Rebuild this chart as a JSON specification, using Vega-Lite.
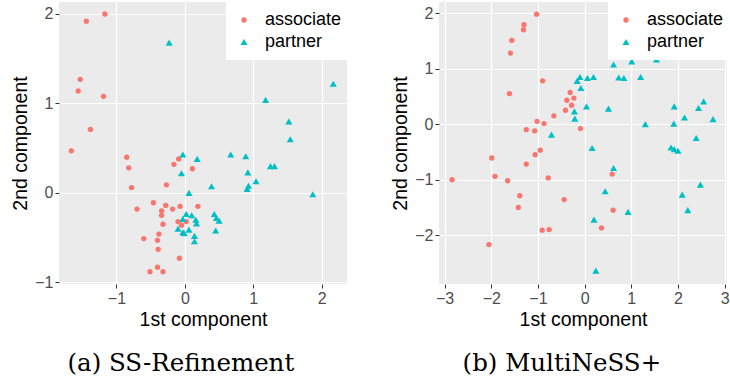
{
  "$schema": "https://vega.github.io/schema/vega-lite/v6.json",
  "padding": {"left": 10, "top": 2, "right": 0, "bottom": 0},
  "spacing": 39,
  "config": {
    "view": {"fill": "#EBEBEB", "stroke": null},
    "font": "Liberation Sans",
    "axis": {"grid": true, "gridColor": "#FFFFFF", "gridWidth": 1.2, "domain": false, "tickColor": "#333333", "tickSize": 4, "tickWidth": 1, "labelColor": "#4D4D4D", "labelFontSize": 16, "labelFont": "Liberation Sans", "labelPadding": 2, "titleFont": "Liberation Sans", "titleFontSize": 19.5, "titleFontWeight": "normal", "titleColor": "#000000", "titlePadding": 4},
    "legend": {"labelFontSize": 18, "labelFont": "Liberation Sans", "labelColor": "#000000", "symbolSize": 30, "padding": 9, "fillColor": "#FFFFFF", "rowPadding": 4, "symbolOffset": 0, "labelOffset": 12, "symbolStrokeWidth": 0},
    "title": {"font": "DejaVu Serif", "fontSize": 24.5, "fontWeight": "normal", "color": "#000000"}
  },
  "datasets": {
    "a": [
      {"x": -1.44, "y": 1.92, "g": "associate"}, {"x": -1.17, "y": 2.0, "g": "associate"}, {"x": -1.53, "y": 1.27, "g": "associate"}, {"x": -1.56, "y": 1.14, "g": "associate"}, {"x": -1.19, "y": 1.08, "g": "associate"}, {"x": -1.38, "y": 0.71, "g": "associate"}, {"x": -1.66, "y": 0.47, "g": "associate"}, {"x": -0.85, "y": 0.40, "g": "associate"}, {"x": -0.09, "y": 0.38, "g": "associate"}, {"x": -0.82, "y": 0.28, "g": "associate"}, {"x": -0.16, "y": 0.32, "g": "associate"}, {"x": 0.11, "y": 0.27, "g": "associate"}, {"x": -0.78, "y": 0.06, "g": "associate"}, {"x": -0.27, "y": 0.09, "g": "associate"}, {"x": -0.46, "y": -0.11, "g": "associate"}, {"x": -0.70, "y": -0.18, "g": "associate"}, {"x": -0.28, "y": -0.14, "g": "associate"}, {"x": -0.07, "y": -0.15, "g": "associate"}, {"x": -0.34, "y": -0.20, "g": "associate"}, {"x": -0.18, "y": -0.18, "g": "associate"}, {"x": 0.19, "y": -0.15, "g": "associate"}, {"x": -0.34, "y": -0.25, "g": "associate"}, {"x": -0.10, "y": -0.32, "g": "associate"}, {"x": 0.02, "y": -0.32, "g": "associate"}, {"x": -0.05, "y": -0.36, "g": "associate"}, {"x": -0.32, "y": -0.35, "g": "associate"}, {"x": -0.38, "y": -0.46, "g": "associate"}, {"x": -0.60, "y": -0.51, "g": "associate"}, {"x": -0.40, "y": -0.53, "g": "associate"}, {"x": -0.39, "y": -0.63, "g": "associate"}, {"x": -0.08, "y": -0.73, "g": "associate"}, {"x": -0.40, "y": -0.83, "g": "associate"}, {"x": -0.51, "y": -0.88, "g": "associate"}, {"x": -0.32, "y": -0.88, "g": "associate"},
      {"x": -0.23, "y": 1.68, "g": "partner"}, {"x": 2.17, "y": 1.22, "g": "partner"}, {"x": 1.18, "y": 1.04, "g": "partner"}, {"x": 1.52, "y": 0.80, "g": "partner"}, {"x": 1.54, "y": 0.60, "g": "partner"}, {"x": -0.03, "y": 0.43, "g": "partner"}, {"x": 0.18, "y": 0.38, "g": "partner"}, {"x": 0.67, "y": 0.43, "g": "partner"}, {"x": 0.89, "y": 0.41, "g": "partner"}, {"x": -0.05, "y": 0.22, "g": "partner"}, {"x": 0.92, "y": 0.23, "g": "partner"}, {"x": 1.25, "y": 0.30, "g": "partner"}, {"x": 1.31, "y": 0.30, "g": "partner"}, {"x": 1.04, "y": 0.13, "g": "partner"}, {"x": 0.39, "y": 0.075, "g": "partner"}, {"x": 0.93, "y": 0.08, "g": "partner"}, {"x": 0.91, "y": 0.045, "g": "partner"}, {"x": 0.06, "y": 0.0, "g": "partner"}, {"x": 1.87, "y": -0.015, "g": "partner"}, {"x": 0.02, "y": -0.235, "g": "partner"}, {"x": 0.10, "y": -0.25, "g": "partner"}, {"x": 0.43, "y": -0.235, "g": "partner"}, {"x": 0.46, "y": -0.28, "g": "partner"}, {"x": 0.50, "y": -0.31, "g": "partner"}, {"x": 0.16, "y": -0.30, "g": "partner"}, {"x": 0.17, "y": -0.34, "g": "partner"}, {"x": -0.03, "y": -0.29, "g": "partner"}, {"x": -0.10, "y": -0.40, "g": "partner"}, {"x": 0.06, "y": -0.41, "g": "partner"}, {"x": -0.03, "y": -0.44, "g": "partner"}, {"x": -0.01, "y": -0.45, "g": "partner"}, {"x": 0.45, "y": -0.42, "g": "partner"}, {"x": 0.14, "y": -0.48, "g": "partner"}, {"x": 0.14, "y": -0.54, "g": "partner"}
    ],
    "b": [
      {"x": -1.03, "y": 1.98, "g": "associate"}, {"x": -1.30, "y": 1.79, "g": "associate"}, {"x": -1.31, "y": 1.70, "g": "associate"}, {"x": -1.56, "y": 1.51, "g": "associate"}, {"x": -1.59, "y": 1.28, "g": "associate"}, {"x": -0.90, "y": 0.78, "g": "associate"}, {"x": -1.61, "y": 0.55, "g": "associate"}, {"x": -0.31, "y": 0.57, "g": "associate"}, {"x": -0.38, "y": 0.43, "g": "associate"}, {"x": -0.23, "y": 0.47, "g": "associate"}, {"x": -0.28, "y": 0.34, "g": "associate"}, {"x": -0.41, "y": 0.25, "g": "associate"}, {"x": -0.66, "y": 0.15, "g": "associate"}, {"x": -1.02, "y": 0.05, "g": "associate"}, {"x": -0.87, "y": 0.01, "g": "associate"}, {"x": -1.25, "y": -0.10, "g": "associate"}, {"x": -1.07, "y": -0.12, "g": "associate"}, {"x": -0.09, "y": -0.08, "g": "associate"}, {"x": -0.95, "y": -0.47, "g": "associate"}, {"x": -1.06, "y": -0.55, "g": "associate"}, {"x": -1.99, "y": -0.61, "g": "associate"}, {"x": -1.25, "y": -0.72, "g": "associate"}, {"x": -2.84, "y": -1.0, "g": "associate"}, {"x": -1.92, "y": -0.94, "g": "associate"}, {"x": -1.65, "y": -1.02, "g": "associate"}, {"x": -0.78, "y": -0.97, "g": "associate"}, {"x": 0.59, "y": -0.90, "g": "associate"}, {"x": -1.39, "y": -1.29, "g": "associate"}, {"x": -1.42, "y": -1.50, "g": "associate"}, {"x": -0.44, "y": -1.36, "g": "associate"}, {"x": 0.61, "y": -1.55, "g": "associate"}, {"x": -0.91, "y": -1.91, "g": "associate"}, {"x": -0.76, "y": -1.90, "g": "associate"}, {"x": 0.36, "y": -1.87, "g": "associate"}, {"x": -2.05, "y": -2.17, "g": "associate"},
      {"x": 0.62, "y": 1.075, "g": "partner"}, {"x": 1.01, "y": 1.13, "g": "partner"}, {"x": 1.54, "y": 1.165, "g": "partner"}, {"x": -0.10, "y": 0.85, "g": "partner"}, {"x": -0.16, "y": 0.78, "g": "partner"}, {"x": 0.06, "y": 0.83, "g": "partner"}, {"x": 0.19, "y": 0.85, "g": "partner"}, {"x": 0.73, "y": 0.84, "g": "partner"}, {"x": 0.84, "y": 0.83, "g": "partner"}, {"x": 1.20, "y": 0.85, "g": "partner"}, {"x": -0.08, "y": 0.65, "g": "partner"}, {"x": 0.04, "y": 0.32, "g": "partner"}, {"x": 0.51, "y": 0.28, "g": "partner"}, {"x": -0.22, "y": 0.23, "g": "partner"}, {"x": -0.21, "y": 0.10, "g": "partner"}, {"x": -0.71, "y": -0.19, "g": "partner"}, {"x": 0.16, "y": -0.43, "g": "partner"}, {"x": 1.30, "y": 0.0, "g": "partner"}, {"x": 1.92, "y": 0.32, "g": "partner"}, {"x": 1.91, "y": 0.01, "g": "partner"}, {"x": 2.14, "y": 0.12, "g": "partner"}, {"x": 2.44, "y": 0.29, "g": "partner"}, {"x": 2.55, "y": 0.41, "g": "partner"}, {"x": 2.75, "y": 0.09, "g": "partner"}, {"x": 2.39, "y": -0.25, "g": "partner"}, {"x": 1.85, "y": -0.42, "g": "partner"}, {"x": 1.92, "y": -0.45, "g": "partner"}, {"x": 2.00, "y": -0.48, "g": "partner"}, {"x": 0.62, "y": -0.79, "g": "partner"}, {"x": 0.44, "y": -1.21, "g": "partner"}, {"x": 2.48, "y": -1.09, "g": "partner"}, {"x": 2.09, "y": -1.27, "g": "partner"}, {"x": 2.21, "y": -1.55, "g": "partner"}, {"x": 0.93, "y": -1.58, "g": "partner"}, {"x": 0.20, "y": -1.72, "g": "partner"}, {"x": 0.24, "y": -2.64, "g": "partner"}
    ]
  },
  "resolve": {"scale": {"color": "independent", "shape": "independent", "size": "independent"}, "legend": {"color": "independent", "shape": "independent"}},
  "hconcat": [
    {
      "width": 288, "height": 282,
      "data": {"name": "a"},
      "title": {"text": "(a) SS-Refinement", "orient": "bottom", "anchor": "middle", "frame": "bounds", "offset": 23},
      "mark": {"type": "point", "filled": true, "opacity": 1},
      "encoding": {
        "x": {"field": "x", "type": "quantitative", "scale": {"domain": [-1.84, 2.37], "nice": false, "zero": false}, "axis": {"values": [-1, 0, 1, 2], "title": "1st component"}},
        "y": {"field": "y", "type": "quantitative", "scale": {"domain": [-1.018, 2.134], "nice": false, "zero": false}, "axis": {"values": [-1, 0, 1, 2], "title": "2nd component"}},
        "color": {"field": "g", "type": "nominal", "scale": {"domain": ["associate", "partner"], "range": ["#F8766D", "#00BFC4"]}, "legend": {"title": null, "orient": "none", "legendX": 167, "legendY": 0}},
        "shape": {"field": "g", "type": "nominal", "scale": {"domain": ["associate", "partner"], "range": ["circle", "triangle-up"]}, "legend": {"title": null, "orient": "none", "legendX": 167, "legendY": 0}},
        "size": {"field": "g", "type": "nominal", "scale": {"domain": ["associate", "partner"], "range": [28, 50]}, "legend": null}
      }
    },
    {
      "width": 288, "height": 282,
      "data": {"name": "b"},
      "title": {"text": "(b) MultiNeSS+", "orient": "bottom", "anchor": "middle", "frame": "bounds", "offset": 23},
      "mark": {"type": "point", "filled": true, "opacity": 1},
      "encoding": {
        "x": {"field": "x", "type": "quantitative", "scale": {"domain": [-3.12, 3.05], "nice": false, "zero": false}, "axis": {"values": [-3, -2, -1, 0, 1, 2, 3], "title": "1st component"}},
        "y": {"field": "y", "type": "quantitative", "scale": {"domain": [-2.88, 2.2], "nice": false, "zero": false}, "axis": {"values": [-2, -1, 0, 1, 2], "title": "2nd component"}},
        "color": {"field": "g", "type": "nominal", "scale": {"domain": ["associate", "partner"], "range": ["#F8766D", "#00BFC4"]}, "legend": {"title": null, "orient": "none", "legendX": 169, "legendY": 0}},
        "shape": {"field": "g", "type": "nominal", "scale": {"domain": ["associate", "partner"], "range": ["circle", "triangle-up"]}, "legend": {"title": null, "orient": "none", "legendX": 169, "legendY": 0}},
        "size": {"field": "g", "type": "nominal", "scale": {"domain": ["associate", "partner"], "range": [28, 50]}, "legend": null}
      }
    }
  ]
}
